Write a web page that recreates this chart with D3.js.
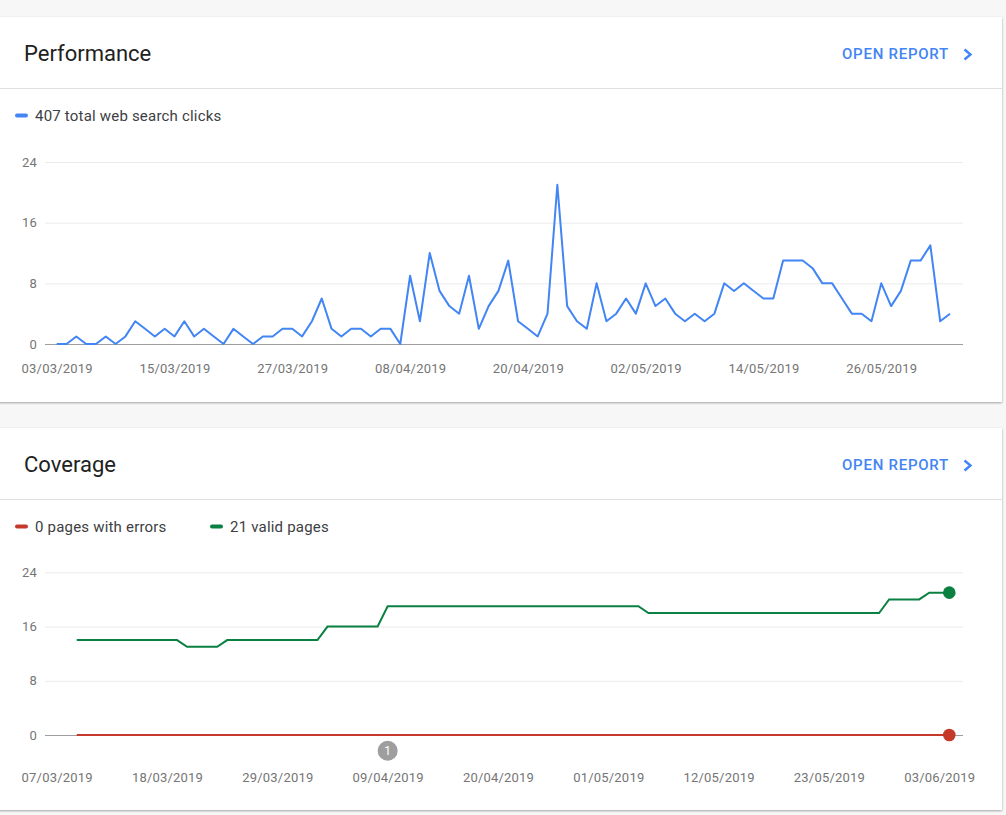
<!DOCTYPE html>
<html>
<head>
<meta charset="utf-8">
<script src="https://cdn.jsdelivr.net/npm/d3@7"></script>
<style>
  body { margin: 0; background: #f7f7f7; font-family: Roboto, "Noto Sans", sans-serif; }
  svg { display: block; }
  .tick text { font-family: Roboto, sans-serif; font-size: 13px; fill: #757575; letter-spacing: 0.2px; }
</style>
</head>
<body>
<div id="board"></div>
<script>
// performance data (daily clicks)
let perfStart = "03/03/2019";
let perfClicks = [
  0, 0, 1, 0, 0, 1, 0, 1, 3, 2,
  1, 2, 1, 3, 1, 2, 1, 0, 2, 1,
  0, 1, 1, 2, 2, 1, 3, 6, 2, 1,
  2, 2, 1, 2, 2, 0, 9, 3, 12, 7,
  5, 4, 9, 2, 5, 7, 11, 3, 2, 1,
  4, 21, 5, 3, 2, 8, 3, 4, 6, 4,
  8, 5, 6, 4, 3, 4, 3, 4, 8, 7,
  8, 7, 6, 6, 11, 11, 11, 10, 8, 8,
  6, 4, 4, 3, 8, 5, 7, 11, 11, 13,
  3, 4
];
let perfTicks = ["03/03/2019", "15/03/2019", "27/03/2019", "08/04/2019",
  "20/04/2019", "02/05/2019", "14/05/2019", "26/05/2019"];

// coverage data (daily pages)
let covStart = "09/03/2019";
let covValid = [
  14, 14, 14, 14, 14, 14, 14, 14, 14, 14, 14,
  13, 13, 13, 13,
  14, 14, 14, 14, 14, 14, 14, 14, 14, 14,
  16, 16, 16, 16, 16, 16,
  19, 19, 19, 19, 19, 19, 19, 19, 19, 19, 19, 19, 19,
  19, 19, 19, 19, 19, 19, 19, 19, 19, 19, 19, 19, 19,
  18, 18, 18, 18, 18, 18, 18, 18, 18, 18, 18, 18,
  18, 18, 18, 18, 18, 18, 18, 18, 18, 18, 18, 18,
  20, 20, 20, 20,
  21, 21, 21
];
let covErrors = covValid.map(function () { return 0; });
let covTicks = ["07/03/2019", "18/03/2019", "29/03/2019", "09/04/2019",
  "20/04/2019", "01/05/2019", "12/05/2019", "23/05/2019", "03/06/2019"];
let covAnnotation = { date: "09/04/2019", label: "1" };
let yTicks = [0, 8, 16, 24];

let width = 1006;
let height = 815;
let parseDate = d3.utcParse("%d/%m/%Y");
let fmtDate = d3.utcFormat("%d/%m/%Y");

let svg = d3
  .select("#board")
  .append("svg")
  .attr("width", width)
  .attr("height", height);

// card shadow
let defs = svg.append("defs");
let shadow = defs.append("filter").attr("id", "shadow")
  .attr("x", "-5%").attr("y", "-5%").attr("width", "110%").attr("height", "115%");
shadow.append("feDropShadow")
  .attr("dx", 0).attr("dy", 1).attr("stdDeviation", 1.2)
  .attr("flood-color", "#000").attr("flood-opacity", 0.35);

function drawCard(top, bottom, title) {
  let g = svg.append("g");
  g.append("rect")
    .attr("x", -6).attr("y", top)
    .attr("width", 1008).attr("height", bottom - top)
    .attr("fill", "#fff")
    .attr("filter", "url(#shadow)");
  g.append("text")
    .attr("x", 24).attr("y", top + 44)
    .attr("font-size", 22).attr("fill", "#212121")
    .text(title);
  g.append("text")
    .attr("x", 842).attr("y", top + 42)
    .attr("font-size", 15).attr("font-weight", 500)
    .attr("letter-spacing", "0.75px")
    .attr("fill", "#4285f4")
    .text("OPEN REPORT");
  g.append("path")
    .attr("d", "M964.5," + (top + 32.5) + "L970.5," + (top + 37.5) + "L964.5," + (top + 42.5))
    .attr("fill", "none").attr("stroke", "#4285f4").attr("stroke-width", 2.4);
  g.append("line")
    .attr("x1", 0).attr("x2", 1002)
    .attr("y1", top + 71.5).attr("y2", top + 71.5)
    .attr("stroke", "#e0e0e0");
  return g;
}

function legendItem(x, y, color, label) {
  svg.append("line")
    .attr("x1", x + 2).attr("x2", x + 11)
    .attr("y1", y).attr("y2", y)
    .attr("stroke", color).attr("stroke-width", 4)
    .attr("stroke-linecap", "round");
  svg.append("text")
    .attr("x", x + 20).attr("y", y + 5)
    .attr("font-size", 15).attr("fill", "#3c4043")
    .attr("letter-spacing", "0.2px")
    .text(label);
}

function drawYAxis(yScale) {
  let yAxis = d3.axisLeft(yScale).tickValues(yTicks).tickSize(-918).tickPadding(8);
  let g = svg.append("g")
    .attr("transform", "translate(45,0)")
    .call(yAxis);
  g.select(".domain").remove();
  g.selectAll(".tick line")
    .attr("stroke", function (d) { return d === 0 ? "#9e9e9e" : "#ebebeb"; });
  return g;
}

function drawXAxis(xScale, ticks, y0, pad) {
  let xAxis = d3.axisBottom(xScale)
    .tickValues(ticks.map(parseDate))
    .tickFormat(fmtDate)
    .tickSize(0)
    .tickPadding(pad);
  let g = svg.append("g")
    .attr("transform", "translate(0," + y0 + ")")
    .call(xAxis);
  g.select(".domain").remove();
}

// ---------- performance ----------
drawCard(17, 402, "Performance");
legendItem(15, 115.5, "#4285f4", perfClicks.reduce(function (a, b) { return a + b; }, 0) + " total web search clicks");

let perfDays = perfClicks.map(function (v, i) {
  return { date: d3.utcDay.offset(parseDate(perfStart), i), value: v };
});
let xPerf = d3.scaleUtc()
  .domain([perfDays[0].date, perfDays[perfDays.length - 1].date])
  .range([56.7, 950]);
let yPerf = d3.scaleLinear().domain([0, 24]).range([344, 162]);

drawYAxis(yPerf);
drawXAxis(xPerf, perfTicks, 344, 20);

svg.append("path")
  .datum(perfDays)
  .attr("fill", "none")
  .attr("stroke", "#4285f4")
  .attr("stroke-width", 2)
  .attr("stroke-linejoin", "round")
  .attr("d", d3.line()
    .x(function (d) { return xPerf(d.date); })
    .y(function (d) { return yPerf(d.value); }));

// ---------- coverage ----------
drawCard(428, 810, "Coverage");
legendItem(15, 526.5, "#c5392a", covErrors[covErrors.length - 1] + " pages with errors");
legendItem(210, 526.5, "#0b8043", covValid[covValid.length - 1] + " valid pages");

let xCov = d3.scaleUtc()
  .domain([parseDate("07/03/2019"), parseDate("04/06/2019")])
  .range([56.7, 949.3]);
let yCov = d3.scaleLinear().domain([0, 24]).range([735, 572.3]);

drawYAxis(yCov);
drawXAxis(xCov, covTicks, 735, 38);

let covSeries = [
  { color: "#0b8043", values: covValid },
  { color: "#c5392a", values: covErrors }
];

covSeries.forEach(function (s) {
  let pts = s.values.map(function (v, i) {
    return { date: d3.utcDay.offset(parseDate(covStart), i), value: v };
  });
  svg.append("path")
    .datum(pts)
    .attr("fill", "none")
    .attr("stroke", s.color)
    .attr("stroke-width", 2)
    .attr("d", d3.line()
      .x(function (d) { return xCov(d.date); })
      .y(function (d) { return yCov(d.value); }));
  let last = pts[pts.length - 1];
  svg.append("circle")
    .attr("cx", xCov(last.date))
    .attr("cy", yCov(last.value))
    .attr("r", 6.3)
    .attr("fill", s.color);
});

// annotation marker
let ann = svg.append("g")
  .attr("transform", "translate(" + xCov(parseDate(covAnnotation.date)) + "," + (yCov(0) + 15.7) + ")");
ann.append("circle").attr("r", 10).attr("fill", "#9e9e9e");
ann.append("text")
  .attr("text-anchor", "middle")
  .attr("dy", "0.36em")
  .attr("font-size", 12)
  .attr("fill", "#fff")
  .text(covAnnotation.label);
</script>
</body>
</html>
